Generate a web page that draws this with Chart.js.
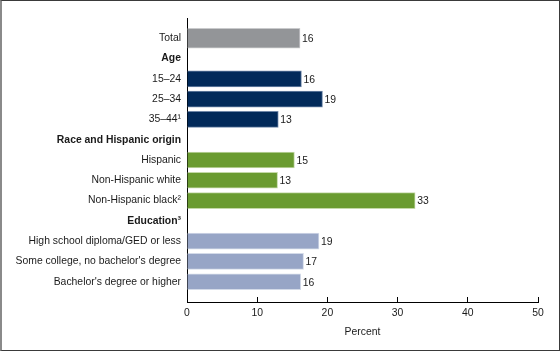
<!DOCTYPE html>
<html>
<head>
<meta charset="utf-8">
<script src="https://cdn.jsdelivr.net/npm/chart.js@4"></script>
<style>
  body { margin: 0; background: #fff; }
  #wrap { position: relative; width: 560px; height: 351px; }
  #frame {
    position: absolute; left: 0; top: 0; width: 560px; height: 351px;
    box-sizing: border-box; pointer-events: none;
    border: 1px solid #3a3a3a; border-left: 2px solid #8a8a8a;
  }
  canvas { position: absolute; left: 0; top: 0; }
</style>
</head>
<body>
<div id="wrap">
  <canvas id="chart" width="560" height="351"></canvas>
  <div id="frame"></div>
</div>
<script>
// rows, top to bottom (headers have no value)
const categories = ['Total', 'Age', '15–24', '25–34', '35–44¹', 'Race and Hispanic origin',
  'Hispanic', 'Non-Hispanic white', 'Non-Hispanic black²', 'Education³',
  'High school diploma/GED or less', "Some college, no bachelor's degree", "Bachelor's degree or higher"];
const percents = [16.1, null, 16.3, 19.3, 13.0, null, 15.3, 12.9, 32.5, null, 18.8, 16.6, 16.2];
const groups = ['total', 'header', 'age', 'age', 'age', 'header', 'race', 'race', 'race', 'header', 'edu', 'edu', 'edu'];
const xTicks = [0, 10, 20, 30, 40, 50];

const fill = { total: '#939598', age: '#022a5a', race: '#6a9b30', edu: '#97a5c6' };
const edge = { total: '#c9cacc', age: '#6f87a8', race: '#c4d9a8', edu: '#d3dae8' };
const FONT = '"Liberation Sans", Arial, sans-serif';
const SIZE = 10.4;

// blank row above and below so the axis runs past the first and last bar
const labels = [''].concat(categories, ['']);
const rowGroups = [''].concat(groups, ['']);
const totalData = [null].concat(percents.map((v, i) => groups[i] === 'total' ? v : null), [null]);
const restData = [null].concat(percents.map((v, i) => groups[i] === 'total' ? null : v), [null]);

const valueLabels = {
  id: 'valueLabels',
  afterDatasetsDraw(chart) {
    const ctx = chart.ctx;
    ctx.save();
    ctx.font = SIZE + 'px ' + FONT;
    ctx.fillStyle = '#1a1a1a';
    ctx.textBaseline = 'middle';
    ctx.textAlign = 'left';
    chart.data.datasets.forEach((ds, di) => {
      chart.getDatasetMeta(di).data.forEach((bar, i) => {
        const v = ds.data[i];
        if (v == null) return;
        ctx.fillText(Math.round(v), bar.x + 2, bar.y + 1);
      });
    });
    ctx.restore();
  }
};

new Chart(document.getElementById('chart'), {
  type: 'bar',
  data: {
    labels: labels,
    datasets: [
      {
        data: totalData,
        backgroundColor: ctx => fill[rowGroups[ctx.dataIndex]] || '#000',
        borderColor: ctx => edge[rowGroups[ctx.dataIndex]] || '#000',
        borderWidth: 1,
        barThickness: 20
      },
      {
        data: restData,
        backgroundColor: ctx => fill[rowGroups[ctx.dataIndex]] || '#000',
        borderColor: ctx => edge[rowGroups[ctx.dataIndex]] || '#000',
        borderWidth: 1,
        barThickness: 16
      }
    ]
  },
  options: {
    indexAxis: 'y',
    responsive: false,
    animation: false,
    grouped: false,
    layout: { padding: { top: 18, right: 22, bottom: 0, left: 0 } },
    plugins: { legend: { display: false }, tooltip: { enabled: false } },
    scales: {
      y: {
        type: 'category',
        offset: false,
        grid: { display: false, drawTicks: false },
        border: { display: true, color: '#000', width: 1 },
        ticks: {
          autoSkip: false,
          padding: 6,
          color: '#1a1a1a',
          font: ctx => ({
            family: FONT,
            size: SIZE,
            weight: rowGroups[ctx.index] === 'header' ? 'bold' : 'normal'
          })
        },
        afterFit: scale => { scale.width = 187; }
      },
      x: {
        min: 0,
        max: 50,
        afterBuildTicks: scale => { scale.ticks = xTicks.map(v => ({ value: v })); },
        grid: { drawOnChartArea: false, drawTicks: true, tickLength: -5, color: '#000' },
        border: { display: true, color: '#000', width: 1 },
        ticks: {
          padding: 10,
          color: '#1a1a1a',
          font: { family: FONT, size: SIZE }
        },
        title: {
          display: true,
          text: 'Percent',
          color: '#1a1a1a',
          font: { family: FONT, size: SIZE },
          padding: { top: 0, bottom: 13 }
        },
        afterFit: scale => { scale.height = 49; }
      }
    }
  },
  plugins: [valueLabels]
});
</script>
</body>
</html>
